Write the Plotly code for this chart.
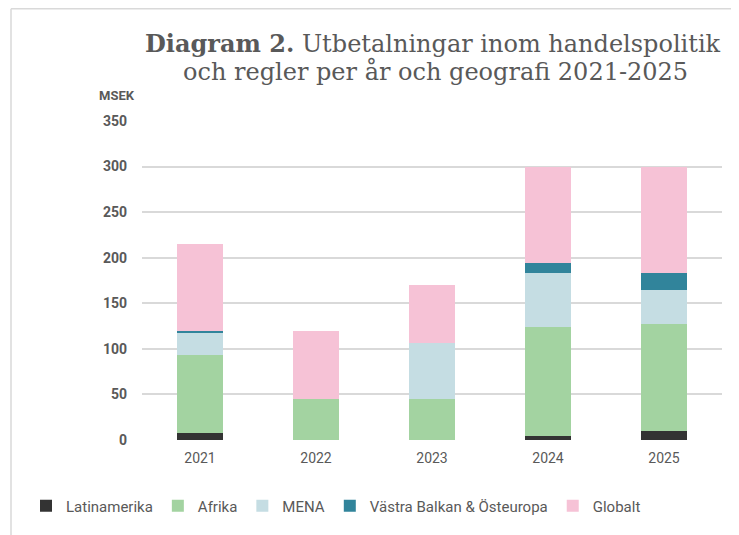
import plotly.graph_objects as go

years = ["2021", "2022", "2023", "2024", "2025"]
series_names = ["Latinamerika", "Afrika", "MENA", "Västra Balkan & Östeuropa", "Globalt"]
latinamerika = [8, 0, 0, 4, 9.5]
afrika = [85, 45, 45, 120, 118]
mena = [25, 0, 61, 59, 37.5]
vastra_balkan = [2, 0, 0, 11, 18]
globalt = [95, 75, 64, 106, 116]
colors = ["#333333", "#a3d3a1", "#c5dde3", "#31849b", "#f6c2d6"]
y_ticks = [0, 50, 100, 150, 200, 250, 300, 350]

# page body has an 8px margin, so the figure is drawn 8px in from the window corner
OFF = 8
W, H = 739 - OFF, 535 - OFF
ml, mr, mt, mb = 142 - OFF, 17, 121 - OFF, H - (440 - OFF)
pw, ph = W - ml - mr, H - mt - mb

def px(x):
    return (x - OFF - ml) / pw

def py(y):
    return (H - mb - (y - OFF)) / ph

fig = go.Figure()
for name, vals, col in zip(series_names, [latinamerika, afrika, mena, vastra_balkan, globalt], colors):
    fig.add_trace(go.Bar(x=years, y=vals, name=name, marker=dict(color=col, line=dict(width=0))))

fig.update_layout(
    width=W, height=H,
    margin=dict(l=ml, r=mr, t=mt, b=mb, autoexpand=False),
    barmode="stack", bargap=0.6,
    plot_bgcolor="white", paper_bgcolor="white",
    showlegend=True,
    legend=dict(orientation="h", x=px(26), xref="paper", xanchor="left",
                y=py(506), yref="paper", yanchor="middle",
                font=dict(family="Roboto, sans-serif", size=15, color="#595959"),
                itemwidth=30, traceorder="normal", tracegroupgap=0),
    xaxis=dict(tickfont=dict(family="Roboto, Liberation Sans, sans-serif", size=14, color="#595959"),
               showgrid=False, zeroline=False, showline=False, ticks="", tickangle=0,
               ticklabelstandoff=8),
    yaxis=dict(range=[0, 350], tickvals=y_ticks, showgrid=True, gridcolor="#d9d9d9", gridwidth=1.5,
               zeroline=False, showline=False, ticks="", ticklabelstandoff=14,
               tickfont=dict(family="Roboto, Liberation Sans, sans-serif", size=14, color="#595959", weight="bold")),
    font=dict(color="#595959"),
)

fig.add_annotation(x=px(117), y=py(95), xref="paper", yref="paper", text="<b>MSEK</b>", showarrow=False,
                   font=dict(family="Roboto, Liberation Sans, sans-serif", size=13, color="#595959"),
                   xanchor="center", yanchor="middle")
fig.add_annotation(x=px(433), y=py(43), xref="paper", yref="paper",
                   text="<b>Diagram 2.</b> Utbetalningar inom handelspolitik", showarrow=False,
                   font=dict(family="DejaVu Serif, serif", size=24, color="#595959"),
                   xanchor="center", yanchor="middle")
fig.add_annotation(x=px(435), y=py(72), xref="paper", yref="paper",
                   text="och regler per år och geografi 2021-2025", showarrow=False,
                   font=dict(family="DejaVu Serif, serif", size=24, color="#595959"),
                   xanchor="center", yanchor="middle")

fig.add_shape(type="line", xref="paper", yref="paper", x0=px(11), x1=px(11), y0=py(8.7), y1=py(540),
              line=dict(color="#d9d9d9", width=1.5))
fig.add_shape(type="line", xref="paper", yref="paper", x0=px(11), x1=px(745), y0=py(8.7), y1=py(8.7),
              line=dict(color="#d9d9d9", width=1.5))

fig.write_html("out.html")
